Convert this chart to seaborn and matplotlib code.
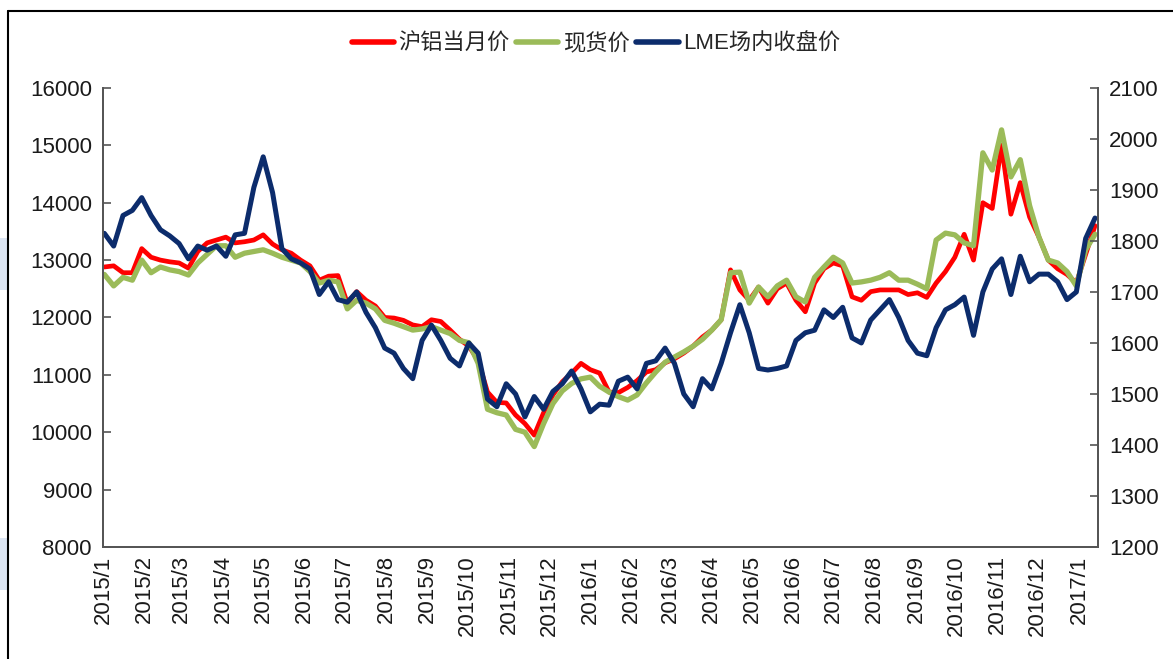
import numpy as np
import pandas as pd
import matplotlib
matplotlib.use('Agg')
import matplotlib.pyplot as plt
import matplotlib.dates as mdates
from matplotlib.lines import Line2D
from matplotlib.patches import Rectangle
import seaborn as sns

sns.set_theme(style='white')
plt.rcParams['font.family'] = ['Liberation Sans', 'Noto Sans CJK SC', 'DejaVu Sans']
plt.rcParams['axes.unicode_minus'] = False

# ── data (weekly readings) ─────────────────────────────────────────────────────
dates = pd.date_range('2015-01-02', periods=107, freq='7D')

shfe_month = [12880, 12900, 12780, 12780, 13200, 13050, 13000, 12970, 12950, 12860,
              13150, 13300, 13350, 13400, 13300, 13320, 13350, 13440, 13280, 13180,
              13120, 13000, 12900, 12650, 12720, 12730, 12250, 12450, 12300, 12200,
              12000, 11990, 11950, 11870, 11840, 11960, 11930, 11780, 11620, 11500,
              11250, 10700, 10520, 10510, 10300, 10150, 9950, 10340, 10650, 10880,
              11030, 11200, 11090, 11030, 10700, 10690, 10780, 10900, 11050, 11090,
              11210, 11280, 11380, 11500, 11660, 11780, 11960, 12830, 12480, 12300,
              12530, 12250, 12500, 12600, 12300, 12100, 12600, 12850, 12950, 12900,
              12360, 12300, 12450, 12480, 12480, 12480, 12400, 12430, 12350, 12600,
              12800, 13050, 13450, 13000, 14000, 13900, 15000, 13800, 14350, 13750,
              13400, 13000, 12850, 12750, 12600, 13100, 13600]

spot = [12750, 12550, 12700, 12650, 13000, 12780, 12880, 12830, 12800, 12740,
        12950, 13100, 13250, 13250, 13050, 13120, 13150, 13180, 13120, 13050,
        13000, 12950, 12800, 12600, 12650, 12620, 12150, 12300, 12250, 12150,
        11950, 11900, 11840, 11780, 11800, 11840, 11780, 11720, 11600, 11560,
        11200, 10400, 10340, 10300, 10050, 10000, 9750, 10150, 10500, 10720,
        10850, 10930, 10960, 10800, 10700, 10620, 10560, 10650, 10860, 11050,
        11220, 11310, 11400, 11500, 11620, 11780, 11960, 12780, 12790, 12250,
        12530, 12360, 12550, 12650, 12360, 12270, 12700, 12880, 13050, 12950,
        12600, 12620, 12650, 12700, 12780, 12650, 12650, 12580, 12500, 13350,
        13470, 13440, 13300, 13250, 14870, 14570, 15270, 14450, 14750, 13950,
        13400, 13000, 12950, 12800, 12550, 13180, 13450]

lme = [1815, 1790, 1850, 1860, 1885, 1850, 1822, 1810, 1795, 1765,
       1790, 1782, 1790, 1770, 1812, 1815, 1905, 1965, 1895, 1785,
       1765, 1757, 1745, 1695, 1720, 1685, 1680, 1700, 1660, 1630,
       1590, 1580, 1550, 1530, 1605, 1635, 1605, 1570, 1555, 1600,
       1580, 1490, 1475, 1520, 1500, 1455, 1495, 1470, 1505, 1520,
       1545, 1510, 1465, 1480, 1478, 1525, 1533, 1510, 1560, 1565,
       1590, 1560, 1500, 1475, 1530, 1510, 1560, 1620, 1675, 1620,
       1550, 1547, 1550, 1555, 1605, 1620, 1625, 1665, 1650, 1670,
       1610, 1600, 1645, 1665, 1685, 1650, 1605, 1580, 1575, 1630,
       1665, 1675, 1690, 1615, 1700, 1745, 1765, 1695, 1770, 1720,
       1735, 1735, 1720, 1685, 1700, 1805, 1845]

labels = ['沪铝当月价', '现货价', 'LME场内收盘价']
colors = ['#FF0000', '#9BBB59', '#0C2C6C']
left_ticks = list(range(8000, 16001, 1000))
right_ticks = list(range(1200, 2101, 100))

# ── figure ─────────────────────────────────────────────────────────────────────
fig = plt.figure(figsize=(11.73, 6.59), dpi=100)
ax = fig.add_axes([0.0878, 0.170, 0.848, 0.6965])
ax2 = ax.twinx()

sns.lineplot(x=dates, y=shfe_month, ax=ax, color=colors[0], lw=3.4)
sns.lineplot(x=dates, y=spot, ax=ax, color=colors[1], lw=3.8)
sns.lineplot(x=dates, y=lme, ax=ax2, color=colors[2], lw=3.6)

ax.set_xlim(pd.Timestamp('2015-01-01'), pd.Timestamp('2017-01-15'))
ax.set_ylim(8000, 16000)
ax2.set_ylim(1200, 2100)
ax.set_yticks(left_ticks)
ax2.set_yticks(right_ticks)

ax.xaxis.set_major_locator(mdates.MonthLocator())
ax.xaxis.set_major_formatter(plt.FuncFormatter(
    lambda v, p: f'{mdates.num2date(v).year}/{mdates.num2date(v).month}'))
for lab in ax.get_xticklabels():
    lab.set_rotation(90)

for a in (ax, ax2):
    a.set_xlabel(''); a.set_ylabel('')
    a.spines['top'].set_visible(False)
    for s in ('left', 'right', 'bottom'):
        a.spines[s].set_color('#555555')
        a.spines[s].set_linewidth(1.3)
    a.tick_params(direction='in', length=6, width=1.2, color='#555555',
                  labelsize=16, labelcolor='#1a1a1a')
ax.tick_params(axis='x', pad=6)
ax.tick_params(axis='y', pad=8)
ax2.tick_params(axis='y', pad=8)
ax.grid(False); ax2.grid(False)

handles = [Line2D([], [], color=c, lw=4) for c in colors]
fig.legend(handles, labels, loc='center', bbox_to_anchor=(0.508, 0.933), ncol=3,
           frameon=False, fontsize=16, handlelength=1.9, handletextpad=0.2,
           columnspacing=0.3)

# screenshot frame & edge marks
fig.add_artist(Line2D([8/1173, 8/1173], [0, 1 - 11/659], transform=fig.transFigure,
                      color='black', lw=1.5))
fig.add_artist(Line2D([8/1173, 1], [1 - 11/659, 1 - 11/659], transform=fig.transFigure,
                      color='black', lw=1.5))
for y0 in (290, 590):
    fig.add_artist(Rectangle((0, 1 - y0/659), 7/1173, 52/659, transform=fig.transFigure,
                             color='#DCE5F2', lw=0))

fig.savefig('out.png', dpi=100)
